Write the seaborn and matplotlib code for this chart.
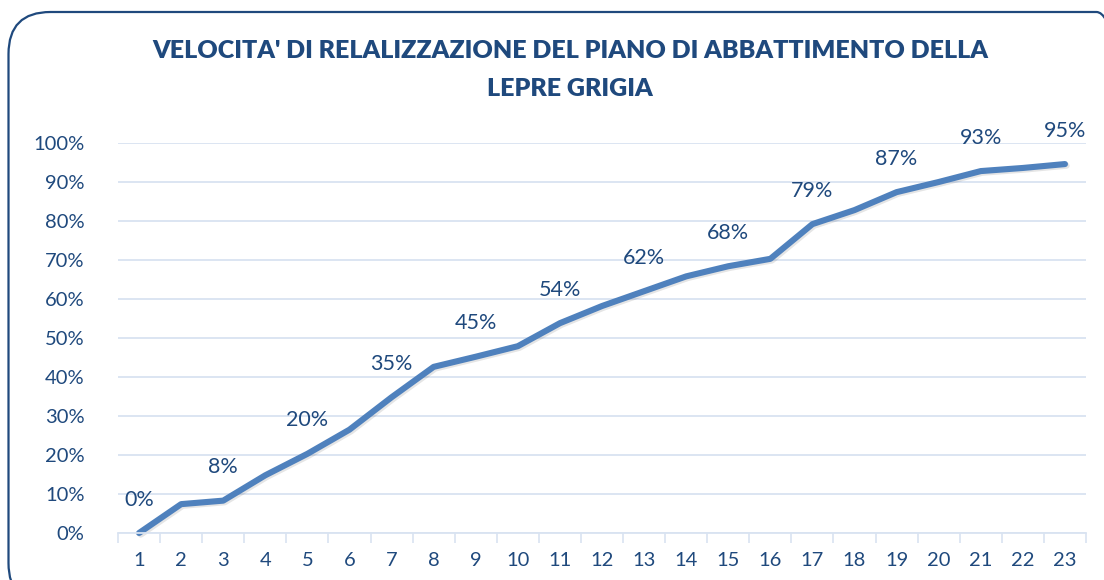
import numpy as np
import pandas as pd
import seaborn as sns
import matplotlib.pyplot as plt
from matplotlib.patches import FancyBboxPatch
import matplotlib.patheffects as pe

# dati
giorni = list(range(1, 24))
valori = [0.0, 7.4, 8.3, 14.8, 20.3, 26.5, 34.8, 42.6, 45.2, 47.9, 53.8, 58.2,
          62.0, 65.8, 68.4, 70.3, 79.2, 82.8, 87.4, 90.0, 92.8, 93.6, 94.6]
etichette = {1: '0%', 3: '8%', 5: '20%', 7: '35%', 9: '45%', 11: '54%',
             13: '62%', 15: '68%', 17: '79%', 19: '87%', 21: '93%', 23: '95%'}

df = pd.DataFrame({'giorno': giorni, 'perc': valori})

sns.set_style('white')
plt.rcParams['font.family'] = ['Lato', 'DejaVu Sans']

blu_testo = '#1F497D'
blu_linea = '#4F81BD'
griglia = '#D9E3F1'

W, H = 1104, 580
fig = plt.figure(figsize=(W / 100, H / 100), dpi=100)

# cornice arrotondata (coordinate in pollici)
cornice = FancyBboxPatch((0.085, -0.25), 11.3, 5.93,
                         boxstyle='round,pad=0,rounding_size=0.42',
                         transform=fig.dpi_scale_trans, fill=False,
                         edgecolor=blu_testo, linewidth=1.6)
fig.patches.append(cornice)

ax = fig.add_axes([118 / W, 1 - 533 / H, (1086 - 118) / W, (533 - 143) / H])

sns.lineplot(data=df, x='giorno', y='perc', ax=ax, color=blu_linea, linewidth=4.4,
             solid_capstyle='round', solid_joinstyle='round', clip_on=False,
             path_effects=[pe.SimpleLineShadow(offset=(1.2, -1.2), alpha=0.1),
                           pe.Normal()])

for g, testo in etichette.items():
    v = valori[g - 1]
    ax.annotate(testo, (g, v), xytext=(0, 24), textcoords='offset points',
                ha='center', va='center', fontsize=15.5, color=blu_testo)

ax.set_xlim(0.5, 23.5)
ax.set_ylim(0, 100)
ax.set_yticks(np.arange(0, 101, 10))
ax.set_yticklabels([f'{v}%' for v in range(0, 101, 10)])
ax.set_xticks(giorni)
ax.set_xticks(np.arange(0.5, 24, 1), minor=True)
ax.tick_params(axis='x', which='major', length=0, pad=14, labelsize=14.5,
               labelcolor=blu_testo)
ax.tick_params(axis='x', which='minor', length=7, width=1.2, color=griglia,
               direction='out', bottom=True)
ax.tick_params(axis='y', length=0, pad=24, labelsize=14.5, labelcolor=blu_testo)
ax.grid(axis='y', color=griglia, linewidth=1.3)
ax.set_axisbelow(True)
for s in ['top', 'right', 'left']:
    ax.spines[s].set_visible(False)
ax.spines['bottom'].set_color(griglia)
ax.spines['bottom'].set_linewidth(1.3)
ax.set_xlabel('')
ax.set_ylabel('')

fig.text(570 / W, 1 - 51 / H, "VELOCITA' DI RELALIZZAZIONE DEL PIANO DI ABBATTIMENTO DELLA",
         ha='center', va='center', fontsize=18, fontweight='heavy', color=blu_testo)
fig.text(570 / W, 1 - 89 / H, 'LEPRE GRIGIA',
         ha='center', va='center', fontsize=18, fontweight='heavy', color=blu_testo)

fig.savefig('out.png', dpi=100)
